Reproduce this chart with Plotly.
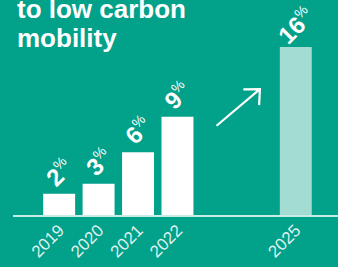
import plotly.graph_objects as go

years = [2019, 2020, 2021, 2022, 2025]
values = [2.0, 2.95, 5.95, 9.3, 15.9]
value_labels = ["2", "3", "6", "9", "16"]
tick_labels = ["2019", "2020", "2021", "2022", "2025"]
bar_colors = ["#ffffff", "#ffffff", "#ffffff", "#ffffff", "#a3dcd2"]
title_lines = ["to low carbon", "mobility"]

BG = "#02a18a"

fig = go.Figure()
fig.add_trace(go.Bar(
    x=years, y=values, width=0.81,
    marker=dict(color=bar_colors, line=dict(width=0)),
    hoverinfo="skip",
))

for x, v, lab in zip(years, values, value_labels):
    fig.add_annotation(
        x=x, y=v, xref="x", yref="y",
        text=f"<b>{lab}</b><sup><span style='font-size:14px'>%</span></sup>",
        showarrow=False, textangle=-45,
        xanchor="center", yanchor="middle", yshift=22, xshift=0,
        font=dict(family="Liberation Sans, Arial", size=24, color="#ffffff"),
    )

# title text (partially cut at top)
fig.add_annotation(x=0, y=1.0, xref="paper", yref="paper", text=f"<b>{title_lines[0]}</b>",
                   showarrow=False, xanchor="left", yanchor="middle", xshift=2, yshift=-9,
                   font=dict(family="Liberation Sans, Arial", size=26, color="#ffffff"))
fig.add_annotation(x=0, y=1.0, xref="paper", yref="paper", text=f"<b>{title_lines[1]}</b>",
                   showarrow=False, xanchor="left", yanchor="middle", xshift=2, yshift=-38,
                   font=dict(family="Liberation Sans, Arial", size=26, color="#ffffff"))

# decorative arrow
fig.add_shape(type="path", xref="x", yref="y",
              path="M 2022.99 8.45 L 2024.09 11.92 M 2023.67 11.90 L 2024.09 11.92 L 2024.07 10.40",
              line=dict(color="#ffffff", width=2.2))

fig.update_layout(
    width=338, height=267,
    margin=dict(l=13, r=0, t=0, b=52),
    paper_bgcolor=BG, plot_bgcolor=BG,
    showlegend=False,
    xaxis=dict(range=[2017.83, 2026.07], tickvals=years, ticktext=tick_labels,
               tickangle=-45, showgrid=False, zeroline=False,
               showline=True, linecolor="#c8ece6", linewidth=1.5,
               ticks="", ticklabelstandoff=-3,
               tickfont=dict(family="Liberation Sans, Arial", size=17, color="rgba(255,255,255,0.88)")),
    yaxis=dict(range=[0, 20.35], visible=False, showgrid=False, zeroline=False),
)

fig.write_html("out.html", post_script="document.body.style.margin='0';document.body.style.overflow='hidden';",
               config={"displayModeBar": False})
